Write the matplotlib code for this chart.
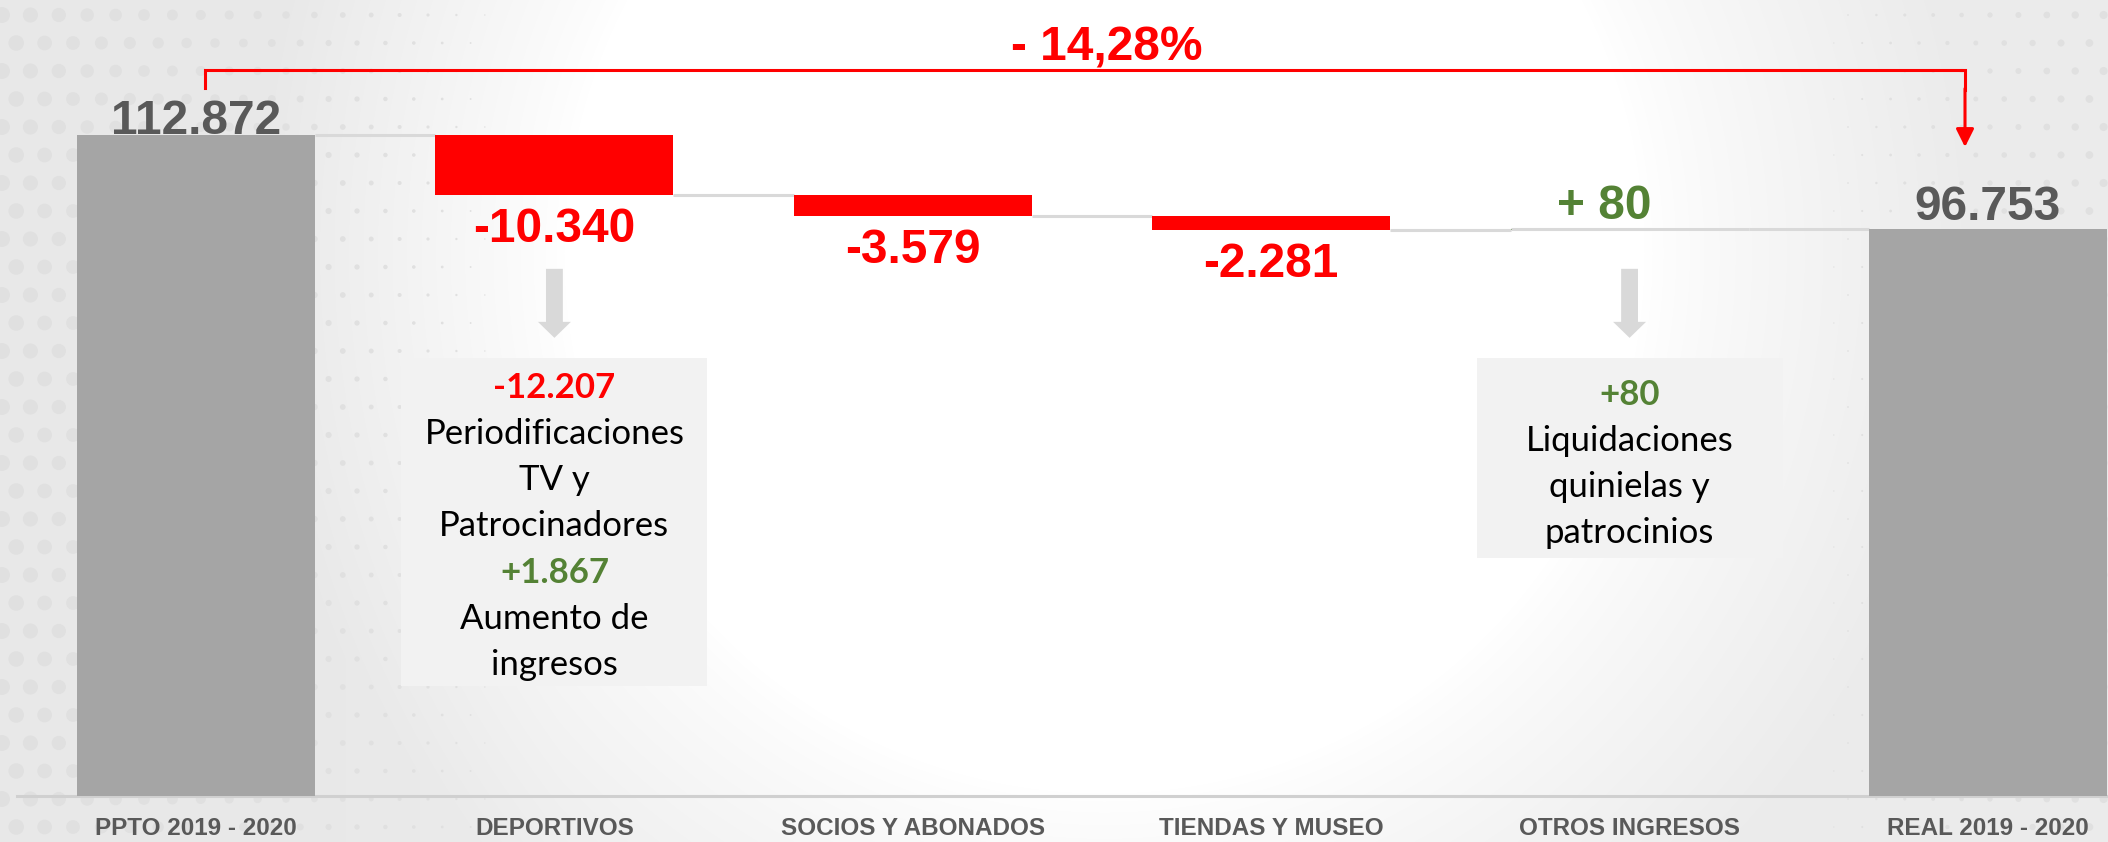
import numpy as np
import matplotlib
matplotlib.use("Agg")
import matplotlib.pyplot as plt
from matplotlib.patches import Rectangle, FancyArrow

plt.rcParams['font.family'] = ['Liberation Sans', 'DejaVu Sans']

# --- data -------------------------------------------------------------
categories = ['PPTO 2019 - 2020', 'DEPORTIVOS', 'SOCIOS Y ABONADOS',
              'TIENDAS Y MUSEO', 'OTROS INGRESOS', 'REAL 2019 - 2020']
start_total = 112872
deltas = [-10340, -3579, -2281, 80]
end_total = 96753
value_labels = ['112.872', '-10.340', '-3.579', '-2.281', '+ 80', '96.753']
change_label = '- 14,28%'

# detail boxes under DEPORTIVOS (index 1) and OTROS INGRESOS (index 4)
box1_lines = ['-12.207', 'Periodificaciones', 'TV y', 'Patrocinadores',
              '+1.867', 'Aumento de', 'ingresos']
box1_kind = ['neg', 'txt', 'txt', 'txt', 'pos', 'txt', 'txt']
box2_lines = ['+80', 'Liquidaciones', 'quinielas y', 'patrocinios']
box2_kind = ['pos', 'txt', 'txt', 'txt']

# --- colours ----------------------------------------------------------
GRAY_BAR = '#a5a5a5'
RED = '#ff0000'
GREEN = '#548235'
LABEL_GRAY = '#595959'
LIGHT = '#d9d9d9'

W, H = 2108, 842
fig = plt.figure(figsize=(W / 100, H / 100), dpi=100)
fig.patch.set_facecolor('#eeeeee')

# background decoration (pixel coordinates): soft white disc + dot pattern
bg = fig.add_axes([0, 0, 1, 1], zorder=0)
bg.set_xlim(0, W)
bg.set_ylim(H, 0)
bg.axis('off')
yy, xx = np.mgrid[0:H, 0:W]
r = np.hypot(xx - 1104, (yy - 253) * 1.0)
shade = np.clip((r - 540) / 320, 0, 1) ** 0.8
left_dark = np.clip((560 - xx) / 500, 0, 1) * 0.35
grey = 1 - 0.075 * np.clip(shade + left_dark * shade, 0, 1.2)
bg.imshow(np.dstack([grey, grey, grey]), extent=(0, W, H, 0),
          interpolation='bilinear', zorder=0)

gx, gy = np.meshgrid(np.arange(2, W, 28.4), np.arange(15, H, 28))
gx = gx + (np.arange(gx.shape[0])[:, None] % 2) * 14.2
gx, gy = gx.ravel(), gy.ravel()
d_left = np.clip(16 - 0.03 * gx, 0, None)
d_right = np.clip((gx - 1780) * 0.025, 0, None)
d = np.maximum(d_left, d_right)
keep = d > 1.2
bg.scatter(gx[keep], gy[keep], s=(d[keep] * 0.72) ** 2, color='#e0e0e0',
           lw=0, zorder=1)

# --- main waterfall axes ----------------------------------------------
ax = fig.add_axes([0, 0, 1, 1], zorder=1)
ax.patch.set_alpha(0)
ax.axis('off')

bar_w = 0.664
x = np.arange(len(categories))
cum = np.cumsum([start_total] + deltas)
bottoms = [0] + [min(cum[i], cum[i + 1]) for i in range(len(deltas))] + [0]
heights = [start_total] + [abs(v) for v in deltas] + [end_total]
colors = [GRAY_BAR] + [RED if v < 0 else GREEN for v in deltas] + [GRAY_BAR]
ax.bar(x, heights, bottom=bottoms, width=bar_w, color=colors, lw=0, zorder=3)

ax.set_xlim(-0.547, 5.335)
ax.set_ylim(-7850, 135840)

# connectors between bars
levels = list(cum) + [end_total]
for i in range(len(categories) - 1):
    ax.plot([x[i] + bar_w / 2, x[i + 1] - bar_w / 2], [levels[i], levels[i]],
            color=LIGHT, lw=2.2, zorder=2, solid_capstyle='butt')
# the +80 step is thinner than a pixel: it reads as part of the connector
ax.plot([x[4] - bar_w / 2, x[4] + bar_w / 2], [levels[4], levels[4]],
        color=LIGHT, lw=2.2, zorder=4, solid_capstyle='butt')

# baseline
ax.plot([-0.5, 5.4], [0, 0], color='#d0d0d0', lw=2.2, zorder=2)

# value labels
for i, lab in enumerate(value_labels):
    if i == 0 or i == len(categories) - 1:
        col, y, off = LABEL_GRAY, heights[i], 1 if i == 0 else 9
    elif deltas[i - 1] < 0:
        col, y, off = RED, bottoms[i], -47
    else:
        col, y, off = GREEN, bottoms[i] + heights[i], 10
    dx = -25 if lab.startswith('+') else 0
    ax.annotate(lab, xy=(x[i], y), xytext=(dx, off), textcoords='offset pixels',
                ha='center', va='baseline', fontsize=34.5, fontweight='bold',
                color=col, zorder=5)

# category labels
for i, c in enumerate(categories):
    ax.annotate(c, xy=(x[i], 0), xytext=(0, -32), textcoords='offset pixels',
                ha='center', va='center', fontsize=17.5, fontweight='bold',
                color=LABEL_GRAY)

# total change bracket
px = 0.005858  # pixels per unit on the y axis
y_br = start_total + 65 / px
x0, x1 = 0.025, 4.936
ax.plot([x0, x0, x1, x1], [y_br - 18 / px, y_br, y_br, y_br - 20 / px],
        color=RED, lw=2.2, zorder=4, solid_joinstyle='miter')
ax.annotate('', xy=(x1, end_total + 82 / px), xytext=(x1, y_br - 19 / px),
            arrowprops=dict(arrowstyle='-|>', color=RED, lw=2.2,
                            mutation_scale=27, shrinkA=0, shrinkB=0), zorder=4)
ax.annotate(change_label, xy=((x0 + x1) / 2 + 0.06, y_br), xytext=(0, 9),
            textcoords='offset pixels', ha='center', va='baseline',
            fontsize=34.5, fontweight='bold', color=RED)


# detail boxes with down arrows
def detail_box(i, lines, kinds, top_px, bottom_px, first_px):
    y_top = (796 - top_px) / px
    y_bot = (796 - bottom_px) / px
    half = 0.427
    ax.add_patch(Rectangle((x[i] - half, y_bot), 2 * half, y_top - y_bot,
                           color='#f2f2f2', lw=0, zorder=3))
    a_top, a_bot = (796 - 269) / px, (796 - 338) / px
    ax.add_patch(FancyArrow(x[i], a_top, 0, a_bot - a_top, width=0.047,
                            head_width=0.092, head_length=16 / px,
                            length_includes_head=True, color=LIGHT, lw=0,
                            zorder=3))
    for j, (t, k) in enumerate(zip(lines, kinds)):
        col = {'neg': RED, 'pos': GREEN, 'txt': '#000000'}[k]
        ax.annotate(t, xy=(x[i], y_top), xytext=(0, -(first_px + 46.2 * j)),
                    textcoords='offset pixels', ha='center', va='baseline',
                    fontsize=25, color=col,
                    fontweight='bold' if k != 'txt' else 'normal',
                    family=['Lato', 'DejaVu Sans'], zorder=5)


detail_box(1, box1_lines, box1_kind, 358, 686, 40)
detail_box(4, box2_lines, box2_kind, 358, 558, 47)

fig.savefig('out.png', dpi=100, facecolor=fig.get_facecolor())
